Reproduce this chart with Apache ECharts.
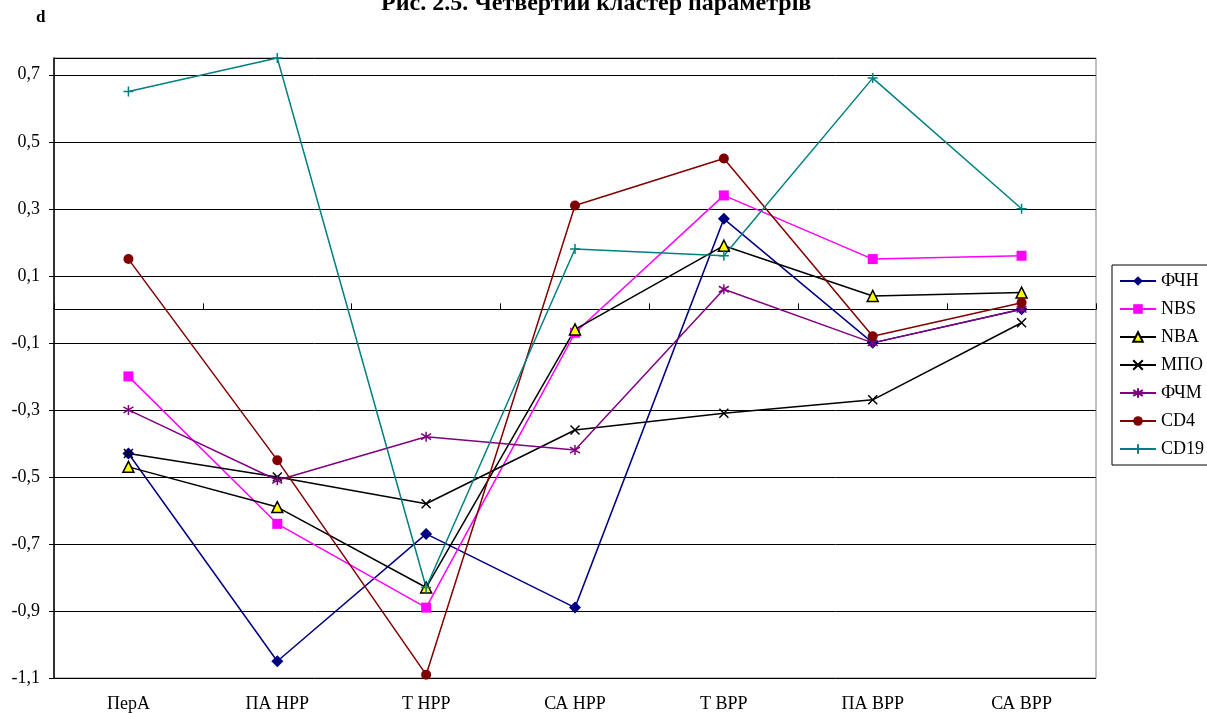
<!DOCTYPE html>
<html><head><meta charset="utf-8">
<script src="https://cdn.jsdelivr.net/npm/echarts@6/dist/echarts.min.js"></script>
<style>html,body{margin:0;padding:0;background:#fff}#c{width:1207px;height:713px}</style>
</head><body><div id="c"></div>
<script>
const categories = ['ПерА','ПА НРР','Т НРР','СА НРР','Т ВРР','ПА ВРР','СА ВРР'];
const yTicks = [-1.1,-0.9,-0.7,-0.5,-0.3,-0.1,0.1,0.3,0.5,0.7];
const FCHN = [-0.43,-1.05,-0.67,-0.89,0.27,-0.10,0.00];
const NBS  = [-0.20,-0.64,-0.89,-0.07,0.34,0.15,0.16];
const NBA  = [-0.47,-0.59,-0.83,-0.06,0.19,0.04,0.05];
const MPO  = [-0.43,-0.50,-0.58,-0.36,-0.31,-0.27,-0.04];
const FCHM = [-0.30,-0.51,-0.38,-0.42,0.06,-0.10,0.00];
const CD4  = [0.15,-0.45,-1.09,0.31,0.45,-0.08,0.02];
const CD19 = [0.65,0.75,-0.83,0.18,0.16,0.69,0.30];

const serif = '"Liberation Serif","DejaVu Serif",serif';
const chart = echarts.init(document.getElementById('c'));
function line(name, data, color, symbol, size, itemStyle){
  return {name, type:'line', data, symbol, symbolSize:size, showSymbol:true,
    lineStyle:{color, width:1.5}, itemStyle: itemStyle || {color}, emphasis:{disabled:true}, z: 3};
}
chart.setOption({
  animation:false,
  title:{text:'Рис. 2.5. Четвертий кластер параметрів', left:376, top:-13,
    textStyle:{fontFamily:serif, fontSize:24, fontWeight:'bold', color:'#000'}},
  graphic:[{type:'text', left:36, top:9, style:{text:'d', font:'bold 17px '+serif, fill:'#000'}}],
  grid:{left:54, right:111, top:58, bottom:35, show:true, borderColor:'#808080', borderWidth:1,
    containLabel:false, outerBoundsMode:'none'},
  legend:{orient:'vertical', left:1112, top:265, itemGap:10, itemWidth:36, itemHeight:12,
    padding:[7,20,7,7], borderColor:'#000', borderWidth:1, backgroundColor:'#fff',
    textStyle:{fontFamily:serif, fontSize:18, color:'#000'},
    data:['ФЧН','NBS','NBA','МПО','ФЧМ','CD4','CD19']},
  xAxis:[
    {type:'category', data:categories, position:'bottom', boundaryGap:true,
     axisLine:{show:false, onZero:false}, axisTick:{show:false},
     axisLabel:{fontFamily:serif, fontSize:18, color:'#000', margin:17}},
    {type:'category', data:categories, boundaryGap:true, gridIndex:0,
     axisLine:{show:true, onZero:true, lineStyle:{color:'#000', width:1}},
     axisTick:{show:true, length:6, inside:false, lineStyle:{color:'#000'}},
     axisLabel:{show:false}}
  ],
  yAxis:{type:'value', min:-1.1, max:0.75, interval:0.2,
    axisLine:{show:true, onZero:false, lineStyle:{color:'#000', width:1.5}},
    axisTick:{show:true, length:5, lineStyle:{color:'#000'}},
    splitLine:{show:true, lineStyle:{color:'#000', width:1}},
    axisLabel:{fontFamily:serif, fontSize:18, color:'#000', margin:14, showMaxLabel:false,
      formatter:v=> (yTicks.some(t=>Math.abs(t-v)<1e-6) ? v.toFixed(1).replace('.',',') : '')}},
  series:[
    line('ФЧН', FCHN, '#000080', 'diamond', 12),
    line('NBS', NBS, '#FF00FF', 'rect', 10),
    line('NBA', NBA, '#000000', 'triangle', 11, {color:'#FFFF00', borderColor:'#000', borderWidth:1.5}),
    line('МПО', MPO, '#000000', 'path://M0,0L10,10M10,0L0,10', 9, {color:'none', borderColor:'#000', borderWidth:1.5}),
    line('ФЧМ', FCHM, '#800080', 'path://M5,0L5,10M0,2L10,8M0,8L10,2', 10, {color:'none', borderColor:'#800080', borderWidth:1.5}),
    line('CD4', CD4, '#800000', 'circle', 10),
    line('CD19', CD19, '#008080', 'path://M5,0L5,10M0,5L10,5', 10, {color:'none', borderColor:'#008080', borderWidth:1.5})
  ]
});
</script></body></html>
